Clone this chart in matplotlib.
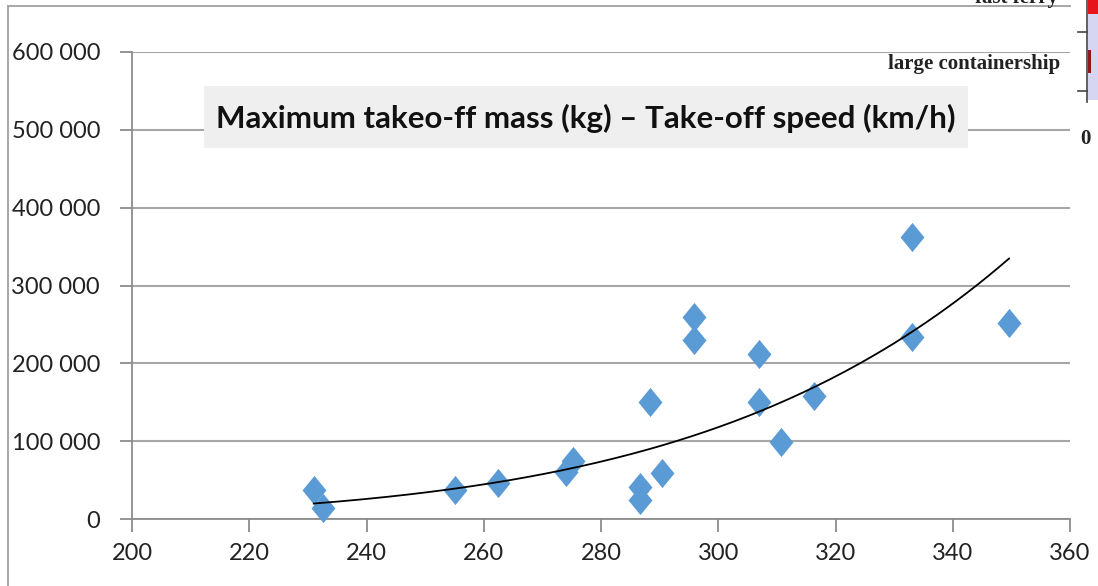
import numpy as np
import matplotlib
matplotlib.use("Agg")
import matplotlib.pyplot as plt
from matplotlib.path import Path
from matplotlib.ticker import FuncFormatter
from matplotlib.patches import Rectangle
from matplotlib.lines import Line2D

# Data: take-off speed (km/h) vs maximum take-off mass (kg)
speed = [231.0, 232.6, 255.1, 262.4, 274.0, 275.2, 286.7, 286.7, 290.4, 288.4,
         295.9, 295.9, 307.0, 307.0, 310.7, 316.3, 333.0, 333.0, 349.6]
mass = [37000, 14000, 37000, 46000, 60000, 75000, 41000, 24000, 59000, 150000,
        260000, 230000, 212000, 150000, 99000, 158000, 362000, 234000, 252000]

title = "Maximum takeo-ff mass (kg) \u2013 Take-off speed (km/h)"
x_ticks = [200, 220, 240, 260, 280, 300, 320, 340, 360]
y_ticks = [0, 100000, 200000, 300000, 400000, 500000, 600000]

W, H = 1098, 586
fig = plt.figure(figsize=(W / 100, H / 100), dpi=100)
fig.patch.set_facecolor("white")

def fx(px):
    return px / W

def fy(py):
    return 1 - py / H

ax = fig.add_axes([fx(132), fy(519), fx(1070) - fx(132), fy(52) - fy(519)])
ax.set_xlim(200, 360)
ax.set_ylim(0, 600000)
ax.set_xticks(x_ticks)
ax.set_yticks(y_ticks)

grid_c = "#a6a6a6"
ax.yaxis.grid(True, color=grid_c, lw=1.5)
ax.set_axisbelow(True)
for s in ["top", "right"]:
    ax.spines[s].set_visible(False)
for s in ["left", "bottom"]:
    ax.spines[s].set_color("#8c8c8c")
    ax.spines[s].set_linewidth(1.3)
ax.tick_params(axis="both", direction="out", length=9, width=1.3, color="#8c8c8c",
               labelsize=17, labelcolor="#222222")
ax.tick_params(axis="x", pad=8)
ax.tick_params(axis="y", pad=14)
ax.yaxis.set_major_formatter(FuncFormatter(lambda v, p: f"{int(v):,}".replace(",", " ")))
for lab in ax.get_xticklabels() + ax.get_yticklabels():
    lab.set_family("Lato")

# diamond marker
diamond = Path([(0, 1), (0.82, 0), (0, -1), (-0.82, 0), (0, 1)],
               [Path.MOVETO, Path.LINETO, Path.LINETO, Path.LINETO, Path.CLOSEPOLY])
ax.plot(speed, mass, linestyle="none", marker=diamond, ms=21, color="#5B9BD5",
        markeredgewidth=0, zorder=3, clip_on=False)

# power trend line (least squares on log-log values)
xs = np.array(speed)
ys = np.array(mass)
c, lna = np.polyfit(np.log(xs), np.log(ys), 1)
xt = np.linspace(xs.min(), xs.max(), 200)
ax.plot(xt, np.exp(lna) * xt ** c, color="black", lw=1.3, zorder=4)

# title box
fig.patches.append(Rectangle((fx(204), fy(148)), fx(968) - fx(204), fy(86) - fy(148),
                             transform=fig.transFigure, facecolor="#efefef",
                             edgecolor="none", zorder=5))
fig.text(fx(586), fy(118), title, ha="center", va="center", fontsize=22.5,
         fontweight="bold", family="Lato", color="#111111", zorder=6)

# outer chart border
fig.add_artist(Line2D([fx(8), fx(8)], [fy(6), 0], color="#a0a0a0", lw=1.3))
fig.add_artist(Line2D([fx(8), fx(1070)], [fy(6), fy(6)], color="#a0a0a0", lw=1.3))

# fragment of neighbouring chart (top right)
serif = ["Liberation Serif", "DejaVu Serif"]
fig.text(fx(1058), fy(-2), "fast ferry", ha="right", va="center", fontsize=15,
         fontweight="bold", family=serif, color="#222222")
fig.text(fx(1060), fy(64), "large containership", ha="right", va="center", fontsize=15,
         fontweight="bold", family=serif, color="#222222")
fig.text(fx(1080), fy(139), "0", ha="left", va="center", fontsize=15,
         fontweight="bold", family=serif, color="#222222")
fig.patches.append(Rectangle((fx(1088), fy(100)), fx(1098) - fx(1088), fy(14) - fy(100),
                             transform=fig.transFigure, facecolor="#d6d6f2",
                             edgecolor="none", zorder=2))
fig.patches.append(Rectangle((fx(1088), fy(14)), fx(1098) - fx(1088), fy(0) - fy(14),
                             transform=fig.transFigure, facecolor="#e8141c",
                             edgecolor="none", zorder=2))
fig.patches.append(Rectangle((fx(1088), fy(73)), fx(1091) - fx(1088), fy(50) - fy(73),
                             transform=fig.transFigure, facecolor="#8b1a1a",
                             edgecolor="none", zorder=3))
fig.add_artist(Line2D([fx(1087), fx(1087)], [fy(0), fy(102)], color="#444444", lw=1.2))
fig.add_artist(Line2D([fx(1078), fx(1087)], [fy(32), fy(32)], color="#444444", lw=1.2))
fig.add_artist(Line2D([fx(1078), fx(1087)], [fy(91), fy(91)], color="#444444", lw=1.2))

fig.savefig("out.png", dpi=100)
